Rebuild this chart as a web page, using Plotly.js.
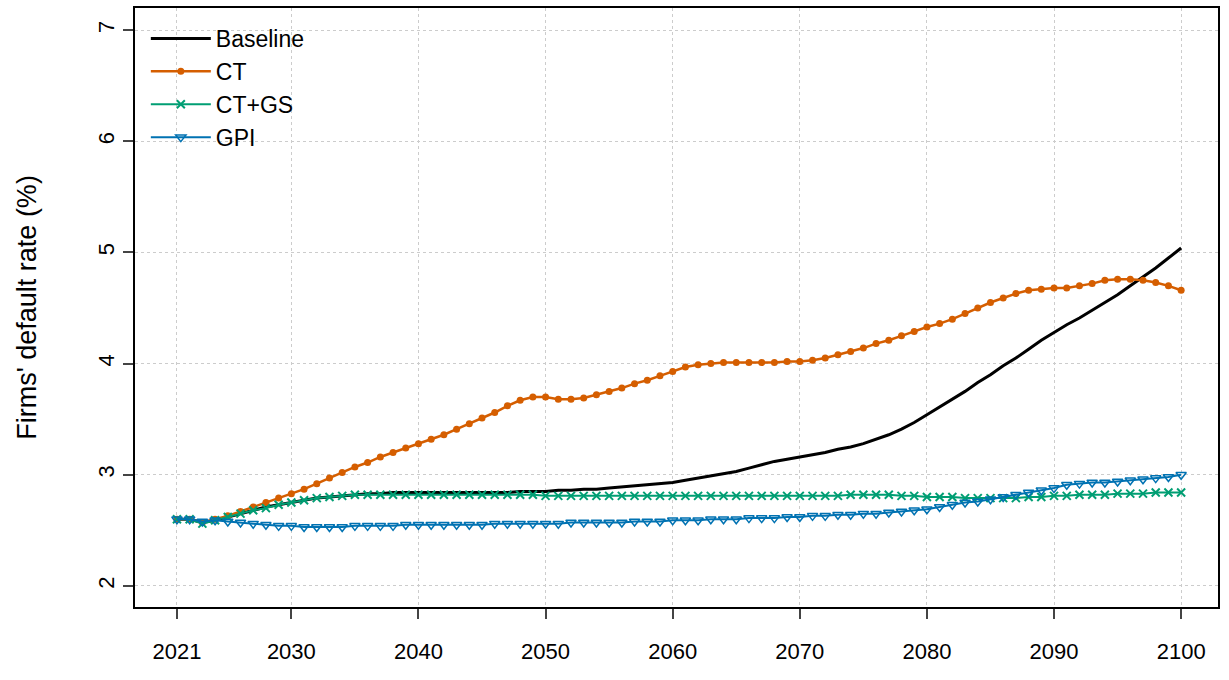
<!DOCTYPE html>
<html><head><meta charset="utf-8">
<script src="https://cdn.plot.ly/plotly-3.0.1.min.js"></script>
<style>body{margin:0;background:#fff}#c{width:1229px;height:680px}</style>
</head><body><div id="c"></div>
<script>
const years = Array.from({length:80},(_,i)=>2021+i);
const baseline = [2.60,2.60,2.57,2.59,2.62,2.65,2.68,2.71,2.73,2.75,
2.77,2.79,2.80,2.81,2.82,2.83,2.83,2.84,2.84,2.84,
2.84,2.84,2.84,2.84,2.84,2.84,2.84,2.85,2.85,2.85,
2.86,2.86,2.87,2.87,2.88,2.89,2.90,2.91,2.92,2.93,
2.95,2.97,2.99,3.01,3.03,3.06,3.09,3.12,3.14,3.16,
3.18,3.20,3.23,3.25,3.28,3.32,3.36,3.41,3.47,3.54,
3.61,3.68,3.75,3.83,3.90,3.98,4.05,4.13,4.21,4.28,
4.35,4.41,4.48,4.55,4.62,4.70,4.78,4.86,4.95,5.04];
const ct = [2.60,2.60,2.57,2.60,2.63,2.67,2.71,2.75,2.79,2.83,
2.87,2.92,2.97,3.02,3.07,3.11,3.16,3.20,3.24,3.28,
3.32,3.36,3.41,3.46,3.51,3.56,3.62,3.67,3.70,3.70,
3.68,3.68,3.69,3.72,3.75,3.78,3.82,3.85,3.89,3.93,
3.97,3.99,4.00,4.01,4.01,4.01,4.01,4.01,4.02,4.02,
4.03,4.05,4.08,4.11,4.14,4.18,4.21,4.25,4.29,4.33,
4.36,4.40,4.45,4.50,4.55,4.59,4.63,4.66,4.67,4.68,
4.68,4.70,4.72,4.75,4.76,4.76,4.75,4.73,4.70,4.66];
const ctgs = [2.60,2.60,2.56,2.59,2.62,2.65,2.68,2.70,2.73,2.75,
2.77,2.79,2.80,2.81,2.82,2.82,2.82,2.82,2.82,2.82,
2.82,2.82,2.82,2.82,2.82,2.82,2.82,2.82,2.82,2.81,
2.81,2.81,2.81,2.81,2.81,2.81,2.81,2.81,2.81,2.81,
2.81,2.81,2.81,2.81,2.81,2.81,2.81,2.81,2.81,2.81,
2.81,2.81,2.81,2.82,2.82,2.82,2.82,2.81,2.81,2.80,
2.80,2.80,2.79,2.79,2.79,2.79,2.79,2.80,2.80,2.81,
2.81,2.82,2.82,2.82,2.83,2.83,2.83,2.84,2.84,2.84];
const gpi = [2.60,2.60,2.58,2.59,2.58,2.57,2.56,2.55,2.54,2.54,
2.53,2.53,2.53,2.53,2.54,2.54,2.54,2.54,2.55,2.55,
2.55,2.55,2.55,2.55,2.55,2.56,2.56,2.56,2.56,2.56,
2.56,2.57,2.57,2.57,2.57,2.57,2.58,2.58,2.58,2.59,
2.59,2.59,2.60,2.60,2.60,2.61,2.61,2.61,2.62,2.62,
2.63,2.63,2.64,2.64,2.65,2.65,2.66,2.67,2.68,2.69,
2.71,2.73,2.75,2.76,2.78,2.80,2.82,2.84,2.86,2.88,
2.91,2.92,2.93,2.93,2.94,2.95,2.96,2.97,2.98,3.00];
const xticks = [2021,2030,2040,2050,2060,2070,2080,2090,2100];
const yticks = [2,3,4,5,6,7];

const traces = [
 {x:years,y:baseline,name:'Baseline',mode:'lines',line:{color:'#000000',width:3}},
 {x:years,y:ct,name:'CT',mode:'lines+markers',line:{color:'#D55E00',width:2.5},marker:{symbol:'circle',size:7,color:'#D55E00'}},
 {x:years,y:ctgs,name:'CT+GS',mode:'lines+markers',line:{color:'#009E73',width:2},marker:{symbol:'x-thin-open',size:8,color:'#009E73',line:{width:2,color:'#009E73'}}},
 {x:years,y:gpi,name:'GPI',mode:'lines+markers',line:{color:'#0072B2',width:2},marker:{symbol:'triangle-down-open',size:9,color:'#0072B2',line:{width:1.5,color:'#0072B2'}}}
];
const layout = {
 width:1229,height:680,paper_bgcolor:'#fff',plot_bgcolor:'#fff',
 font:{family:'Liberation Sans, Arial, sans-serif',color:'#000',size:22},
 margin:{l:135,r:11,t:8,b:73},
 showlegend:true,
 legend:{x:0.01,y:0.985,xanchor:'left',yanchor:'top',bgcolor:'rgba(0,0,0,0)',font:{size:23},tracegroupgap:0,itemwidth:60},
 xaxis:{range:[2017.7,2102.9],tickvals:xticks,ticks:'outside',ticklen:10,tickwidth:1.5,ticklabelstandoff:14,
   showgrid:true,gridcolor:'#cccccc',griddash:'dot',gridwidth:1,zeroline:false,
   showline:true,linecolor:'#000',linewidth:1.5,mirror:true,tickfont:{size:22}},
 yaxis:{range:[1.81,7.2],tickvals:yticks,ticks:'outside',ticklen:10,tickwidth:1.5,tickangle:-90,
   showgrid:true,gridcolor:'#cccccc',griddash:'dot',gridwidth:1,zeroline:false,
   showline:true,linecolor:'#000',linewidth:1.5,mirror:true,tickfont:{size:22},
   title:{text:"Firms' default rate (%)",font:{size:27},standoff:50}}
};
Plotly.newPlot('c',traces,layout,{displayModeBar:false});
</script></body></html>
